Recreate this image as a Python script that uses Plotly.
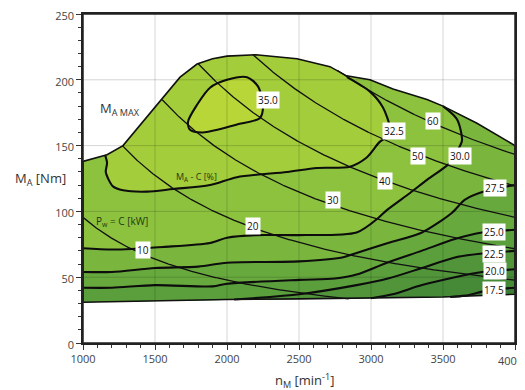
import numpy as np
import plotly.graph_objects as go

# ---------------- data ----------------
# full-load torque curve  M_A MAX  (n [min^-1], M [Nm])
fl_n = [1000, 1167, 1278, 1674, 1792, 1900, 2000, 2200, 2486, 2715, 2830, 2993, 3153, 3389, 3500, 3736, 4000]
fl_m = [138, 143, 150, 202, 212, 216, 218, 219, 216, 210, 203, 200, 193, 185, 180, 167, 150]
# lower edge of the map
bot_n = [1000, 1500, 2000, 2500, 3000, 3500, 4000]
bot_m = [31, 32, 33, 33.5, 34, 35, 37]

# efficiency contours (M_A - C [%])
eff_labels = ["17.5", "20.0", "22.5", "25.0", "27.5", "30.0", "32.5", "35.0"]
c175_n = [3550, 3653, 3813, 4000]
c175_m = [35, 36, 40, 42]
c200_n = [3000, 3150, 3354, 3583, 3771, 4000]
c200_m = [34, 37, 44, 50, 54, 56]
c225_n = [2050, 2300, 2500, 2900, 3118, 3354, 3583, 3771, 4000]
c225_m = [33, 35, 37, 44, 49, 57, 65, 68, 70]
c250_n = [1000, 1200, 1500, 1900, 2000, 2500, 2750, 2900, 3111, 3350, 3583, 3771, 4000]
c250_m = [42, 42, 44, 43, 45, 48, 49, 52, 61, 70, 79, 84, 86]
c275_n = [1000, 1200, 1500, 1800, 2000, 2500, 2800, 2889, 3118, 3354, 3563, 3653, 3813, 4000]
c275_m = [54, 54, 57, 58, 61, 62, 65, 68, 76, 84, 99, 109, 116, 120]
c300_n = [1000, 1208, 1556, 1882, 2000, 2200, 2500, 2900, 3050, 3110, 3271, 3389, 3549, 3604, 3632, 3597, 3500]
c300_m = [72, 71, 73, 76, 80, 82, 82, 84, 95, 101, 114, 124, 137, 147, 154, 170, 180]
c325_n = [1153, 1167, 1158, 1174, 1208, 1278, 1444, 1625, 1882, 2069, 2417, 2625, 2854, 2970, 3062, 3132, 3132, 3083, 2993, 2833]
c325_m = [143, 137, 130, 125, 119, 116, 115, 117, 120, 126, 130, 133, 134, 141, 153, 158, 164, 179, 191, 202]
c350_n = [1729, 1792, 1882, 2000, 2139, 2215, 2250, 2229, 2069, 1833, 1743, 1729]
c350_m = [168, 181, 194, 200, 202, 195, 180, 171, 166, 160, 162, 168]
eff_n = [c175_n, c200_n, c225_n, c250_n, c275_n, c300_n, c325_n, c350_n]
eff_m = [c175_m, c200_m, c225_m, c250_m, c275_m, c300_m, c325_m, c350_m]

# constant power lines P_w = C [kW]
power_kw = [10, 20, 30, 40, 50, 60]

x_ticks = [1000, 1500, 2000, 2500, 3000, 3500, 4000]
x_ticklabels = ["1000", "1500", "2000", "2500", "3000", "3500", "4000"]
y_ticks = [0, 50, 100, 150, 200, 250]

# ---------------- styling ----------------
base_col = "#3b7d35"
band_cols = ["#468a38", "#51943a", "#5b9e3c", "#68a93d", "#7ab63e", "#8dc23f", "#a3cd3a", "#b8d637"]
FONT = "Open Sans"
TICKFONT = dict(family=FONT, size=11, color="#444")


def fl(n):
    return float(np.interp(n, fl_n, fl_m))


def bt(n):
    return float(np.interp(n, bot_n, bot_m))


def band_polygon(cn, cm):
    px, py = list(cn), list(cm)
    n0, m0, n1 = cn[0], cm[0], cn[-1]
    if n0 == cn[-1] and m0 == cm[-1]:
        return px, py
    starts_left = n0 <= 1000
    starts_top = (not starts_left) and abs(m0 - fl(n0)) < 4
    top_lo = n0 if starts_top else 1000
    if n1 >= 4000:
        px.append(4000); py.append(fl(4000))
    for n in [v for v in fl_n if top_lo < v < n1][::-1]:
        px.append(n); py.append(fl(n))
    if not starts_top:
        px.append(1000); py.append(fl(1000))
        if not starts_left:
            px.append(1000); py.append(bt(1000))
            for n in [v for v in bot_n if 1000 < v < n0]:
                px.append(n); py.append(bt(n))
    px.append(n0); py.append(m0)
    return px, py


fig = go.Figure()

# whole map region
reg_x = fl_n + bot_n[::-1] + [fl_n[0]]
reg_y = fl_m + bot_m[::-1] + [fl_m[0]]
fig.add_trace(go.Scatter(x=reg_x, y=reg_y, fill="toself", fillcolor=base_col,
                         mode="lines", line=dict(width=0), hoverinfo="skip"))

# efficiency bands
for cn, cm, col in zip(eff_n, eff_m, band_cols):
    px, py = band_polygon(cn, cm)
    fig.add_trace(go.Scatter(x=px, y=py, fill="toself", fillcolor=col,
                             mode="lines", line=dict(width=0), hoverinfo="skip"))

# power hyperbolas
ngrid = np.linspace(1000, 4000, 601)
for p in power_kw:
    m = 9549.3 * p / ngrid
    ok = (m <= np.interp(ngrid, fl_n, fl_m) + 0.3) & (m >= np.interp(ngrid, bot_n, bot_m) - 0.3)
    y = np.where(ok, m, np.nan)
    fig.add_trace(go.Scatter(x=ngrid, y=y, mode="lines", line=dict(color="#111", width=1.3),
                             connectgaps=False, hoverinfo="skip"))

# efficiency contour lines
for cn, cm in zip(eff_n, eff_m):
    fig.add_trace(go.Scatter(x=cn, y=cm, mode="lines",
                             line=dict(color="#0d0d0d", width=2.1, shape="spline", smoothing=0.8),
                             hoverinfo="skip"))

# outline of the map
fig.add_trace(go.Scatter(x=reg_x, y=reg_y, mode="lines", line=dict(color="#111", width=1.6),
                         hoverinfo="skip"))

# grid lines (drawn over the coloured map)
for v in x_ticks[1:-1]:
    fig.add_shape(type="line", x0=v, x1=v, y0=0, y1=1, xref="x", yref="paper",
                  line=dict(color="rgba(0,0,0,0.17)", width=1), layer="above")
for v in y_ticks[1:-1]:
    fig.add_shape(type="line", x0=0, x1=1, y0=v, y1=v, xref="paper", yref="y",
                  line=dict(color="rgba(0,0,0,0.17)", width=1), layer="above")
# frame of the plot area
fig.add_shape(type="rect", x0=0, x1=1, y0=0, y1=1, xref="paper", yref="paper",
              line=dict(color="#222", width=1.5), layer="above")

# labels on lines
box = dict(bgcolor="white", borderpad=1, showarrow=False,
           font=dict(family=FONT, size=10, color="#111"))
eff_pos = [(3854, 40), (3861, 55), (3854, 68), (3854, 84), (3861, 118), (3618, 142), (3160, 161), (2285, 185)]
for lab, (xx, yy) in zip(eff_labels, eff_pos):
    fig.add_annotation(x=xx, y=yy, text=lab, **box)
pow_pos = [(1417, 71), (2181, 89), (2736, 109), (3097, 123), (3326, 142), (3431, 169)]
for p, (xx, yy) in zip(power_kw, pow_pos):
    fig.add_annotation(x=xx, y=yy, text=str(p), **box)

fig.add_annotation(x=1257, y=178, text="M<sub>A MAX</sub>", showarrow=False,
                   font=dict(family=FONT, size=13, color="#333"))
fig.add_annotation(x=1785, y=126, text="M<sub>A</sub> - C [%]", showarrow=False,
                   font=dict(family=FONT, size=9, color="#1f3a10"))
fig.add_annotation(x=1271, y=92, text="P<sub>w</sub> = C [kW]", showarrow=False,
                   font=dict(family=FONT, size=10, color="#1f3a10"))

# axis titles
fig.add_annotation(x=-0.0995, y=125, xref="paper", yref="y", text="M<sub>A</sub> [Nm]",
                   xanchor="center", yanchor="middle",
                   showarrow=False, font=dict(family=FONT, size=13, color="#333"))
fig.add_annotation(x=0.514, y=-0.1155, xref="paper", yref="paper",
                   text="n<sub>M</sub> [min<sup>-1</sup>]", xanchor="center", yanchor="middle",
                   showarrow=False, font=dict(family=FONT, size=13, color="#333"))
# last x tick label, kept inside the page (it sits at the very edge in the reference)
fig.add_annotation(x=1.0225, y=-0.052, xref="paper", yref="paper", text=x_ticklabels[-1],
                   xanchor="right", yanchor="middle", showarrow=False, font=TICKFONT)

axis_common = dict(showgrid=False, zeroline=False, showline=True, linecolor="#222", linewidth=1.5,
                   mirror=True, ticks="outside", ticklen=5, tickwidth=1, tickcolor="#333",
                   automargin=False, tickfont=TICKFONT)
fig.update_xaxes(range=[1000, 4000], tickvals=x_ticks, ticktext=x_ticklabels[:-1] + [""],
                 minor=dict(dtick=100, ticks="outside", ticklen=3, tickcolor="#333"), **axis_common)
fig.update_yaxes(range=[0, 250], tickvals=y_ticks, ticklabeloverflow="allow", ticklabelshift=2,
                 minor=dict(dtick=10, ticks="outside", ticklen=3, tickcolor="#333"), **axis_common)

# the page body adds an 8 px offset, so the figure is 8 px smaller
fig.update_layout(width=517, height=382, margin=dict(l=75, r=10, t=6, b=47, autoexpand=False),
                  paper_bgcolor="white", plot_bgcolor="white", showlegend=False,
                  hovermode=False)

fig.write_html("out.html")
